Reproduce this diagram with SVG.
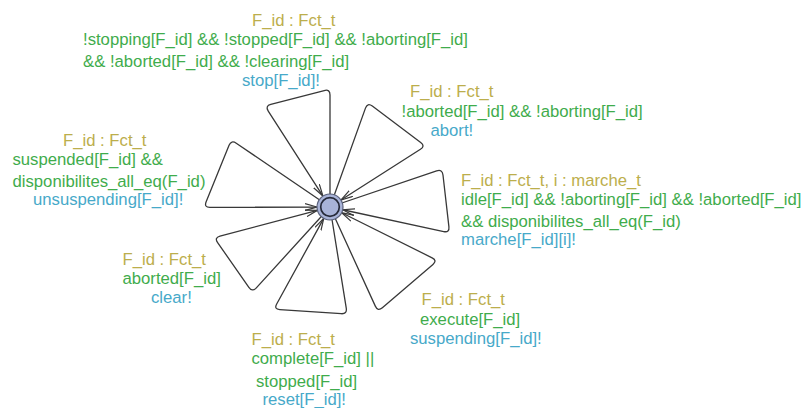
<svg xmlns="http://www.w3.org/2000/svg" width="805" height="408" viewBox="0 0 805 408">
<style>
  .e{fill:none;stroke:#383838;stroke-width:1.3;marker-end:url(#arr)}
  text{font-family:"Liberation Sans",Arial,sans-serif;font-size:16.7px}
  .s{fill:#bcae4c}
  .g{fill:#3fac4c}
  .y{fill:#47a9c9}
</style>
<defs>
  <marker id="arr" markerUnits="userSpaceOnUse" viewBox="0 0 12 8" markerWidth="12" markerHeight="8" refX="12" refY="4" orient="auto">
    <path d="M0,0.6 L12,4 L0,7.4" fill="none" stroke="#383838" stroke-width="1.2"/>
  </marker>
</defs>
<rect width="805" height="408" fill="#ffffff"/>
<g id="edges">
  <path class="e" d="M330,207 L330,95 Q330,89 324.2,90.52 L270.8,104.48 Q265,106 268.25,111.05 L322.96,196.07"/>
  <path class="e" d="M330,207 L365.47,108.15 Q367.5,102.5 372.3,106.1 L420.7,142.4 Q425.5,146 420.44,149.23 L340.96,200"/>
  <path class="e" d="M330,207 L436.62,170.92 Q442.3,169 442.98,174.96 L448.92,226.84 Q449.6,232.8 443.73,231.53 L342.71,209.74"/>
  <path class="e" d="M330,207 L375.31,306.14 Q377.8,311.6 382.36,307.7 L432.94,264.4 Q437.5,260.5 432.13,257.83 L341.64,212.79"/>
  <path class="e" d="M330,207 L346.25,308.18 Q347.2,314.1 341.21,313.7 L279.79,309.6 Q273.8,309.2 276.69,303.94 L323.74,218.39"/>
  <path class="e" d="M330,207 L256.34,287.86 Q252.3,292.3 248.87,287.38 L217.63,242.62 Q214.2,237.7 220,236.16 L317.43,210.33"/>
  <path class="e" d="M330,207 L236.26,143.18 Q231.3,139.8 229.05,145.36 L206.15,201.84 Q203.9,207.4 209.9,207.38 L317,207.04"/>
</g>
<g id="node">
  <circle cx="330" cy="207" r="13" fill="#a8b3d8" stroke="#59607a" stroke-width="1.2"/>
  <circle cx="330" cy="207" r="9.3" fill="#a8b3d8" stroke="#262a3a" stroke-width="1.7"/>
</g>
<g id="label-stop">
  <text class="s" x="252" y="26">F_id : Fct_t</text>
  <text class="g" x="83" y="45.3">!stopping[F_id] &amp;&amp; !stopped[F_id] &amp;&amp; !aborting[F_id]</text>
  <text class="g" x="83" y="67">&amp;&amp; !aborted[F_id] &amp;&amp; !clearing[F_id]</text>
  <text class="y" x="242" y="86">stop[F_id]!</text>
</g>
<g id="label-abort">
  <text class="s" x="410" y="97">F_id : Fct_t</text>
  <text class="g" x="401.5" y="117">!aborted[F_id] &amp;&amp; !aborting[F_id]</text>
  <text class="y" x="430.5" y="135.5">abort!</text>
</g>
<g id="label-marche">
  <text class="s" x="461" y="186">F_id : Fct_t, i : marche_t</text>
  <text class="g" x="461" y="205.3">idle[F_id] &amp;&amp; !aborting[F_id] &amp;&amp; !aborted[F_id]</text>
  <text class="g" x="461" y="227">&amp;&amp; disponibilites_all_eq(F_id)</text>
  <text class="y" x="461" y="244.5">marche[F_id][i]!</text>
</g>
<g id="label-unsuspending">
  <text class="s" x="63" y="145.5">F_id : Fct_t</text>
  <text class="g" x="12.5" y="165.3">suspended[F_id] &amp;&amp;</text>
  <text class="g" x="12.5" y="187">disponibilites_all_eq(F_id)</text>
  <text class="y" x="33" y="205">unsuspending[F_id]!</text>
</g>
<g id="label-clear">
  <text class="s" x="122.5" y="265.3">F_id : Fct_t</text>
  <text class="g" x="122.5" y="283.8">aborted[F_id]</text>
  <text class="y" x="151" y="303">clear!</text>
</g>
<g id="label-reset">
  <text class="s" x="251.5" y="345.3">F_id : Fct_t</text>
  <text class="g" x="251.5" y="363.7">complete[F_id] ||</text>
  <text class="g" x="256" y="387">stopped[F_id]</text>
  <text class="y" x="262.5" y="404.5">reset[F_id]!</text>
</g>
<g id="label-suspending">
  <text class="s" x="421.5" y="305.3">F_id : Fct_t</text>
  <text class="g" x="420" y="325.3">execute[F_id]</text>
  <text class="y" x="410" y="343.7">suspending[F_id]!</text>
</g>
</svg>
